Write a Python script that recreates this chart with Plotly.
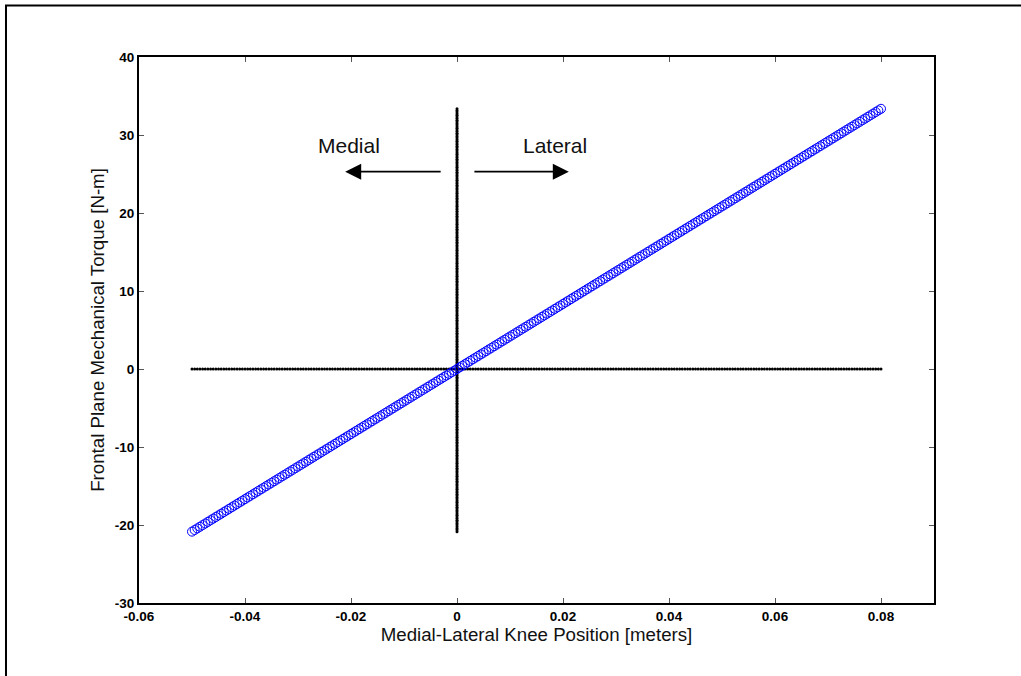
import numpy as np
import plotly.graph_objects as go

# Knee medial-lateral position sweep [m] and the resulting frontal-plane torque [N-m]
position_start_m = -0.05
position_end_m = 0.08
position_step_m = 0.0005
lever_gain_nm_per_m = 417.0

knee_position_m = np.round(np.arange(position_start_m, position_end_m + 1e-9, position_step_m), 4)
torque_nm = lever_gain_nm_per_m * knee_position_m

# Tick values and labels
x_ticks = [-0.06, -0.04, -0.02, 0, 0.02, 0.04, 0.06, 0.08]
x_tick_labels = ["-0.06", "-0.04", "-0.02", "0", "0.02", "0.04", "0.06", "0.08"]
y_ticks = [-30, -20, -10, 0, 10, 20, 30, 40]
y_tick_labels = ["-30", "-20", "-10", "0", "10", "20", "30", "40"]

FONT = "Liberation Sans, Arial, sans-serif"

fig = go.Figure()

# Zero reference lines drawn as dense dots
fig.add_trace(go.Scatter(
    x=knee_position_m, y=np.zeros_like(knee_position_m), mode="markers",
    marker=dict(symbol="circle", size=3, color="black"),
    hoverinfo="skip", showlegend=False))
fig.add_trace(go.Scatter(
    x=np.zeros_like(torque_nm), y=torque_nm, mode="markers",
    marker=dict(symbol="circle", size=3, color="black"),
    hoverinfo="skip", showlegend=False))

# Torque vs. position
fig.add_trace(go.Scatter(
    x=knee_position_m, y=torque_nm, mode="markers",
    marker=dict(symbol="circle-open", size=9, color="#0000ff", line=dict(width=1, color="#0000ff")),
    showlegend=False))

axis_common = dict(
    showgrid=False, zeroline=False, showline=True, linecolor="black", linewidth=2,
    mirror="ticks", ticks="inside", ticklen=5, tickwidth=1, tickcolor="#555",
    tickfont=dict(family=FONT, size=13.5, color="black", weight="bold"),
)

fig.update_layout(
    width=1021, height=676,
    margin=dict(l=139, r=87, t=57, b=73),
    paper_bgcolor="white", plot_bgcolor="white",
    xaxis=dict(range=[-0.06, 0.09], tickvals=x_ticks, ticktext=x_tick_labels,
               title=dict(text="Medial-Lateral Knee Position [meters]",
                          font=dict(family=FONT, size=18.7, color="#111"), standoff=3),
               **axis_common),
    yaxis=dict(range=[-30, 40], tickvals=y_ticks, ticktext=y_tick_labels,
               title=dict(text="Frontal Plane Mechanical Torque [N-m]",
                          font=dict(family=FONT, size=18.7, color="#111"), standoff=5),
               **axis_common),
)

# Direction arrows and labels
arrow_y = 25.3
fig.add_annotation(x=-0.0211, y=arrow_y, ax=-0.0028, ay=arrow_y, xref="x", yref="y",
                   axref="x", ayref="y", text="", showarrow=True,
                   arrowhead=2, arrowsize=2.0, arrowwidth=1.6, arrowcolor="black")
fig.add_annotation(x=0.0211, y=arrow_y, ax=0.003, ay=arrow_y, xref="x", yref="y",
                   axref="x", ayref="y", text="", showarrow=True,
                   arrowhead=2, arrowsize=2.0, arrowwidth=1.6, arrowcolor="black")
fig.add_annotation(x=-0.0204, y=28.6, xref="x", yref="y", text="Medial", showarrow=False,
                   font=dict(family=FONT, size=21, color="#111"))
fig.add_annotation(x=0.0185, y=28.6, xref="x", yref="y", text="Lateral", showarrow=False,
                   font=dict(family=FONT, size=21, color="#111"))

# Outer frame around the figure
fig.add_shape(type="rect", xref="paper", yref="paper",
              x0=-0.1673, y0=-0.3, x1=1.3, y1=1.0943,
              line=dict(color="black", width=2), fillcolor="rgba(0,0,0,0)", layer="below")

fig.write_html("out.html")
